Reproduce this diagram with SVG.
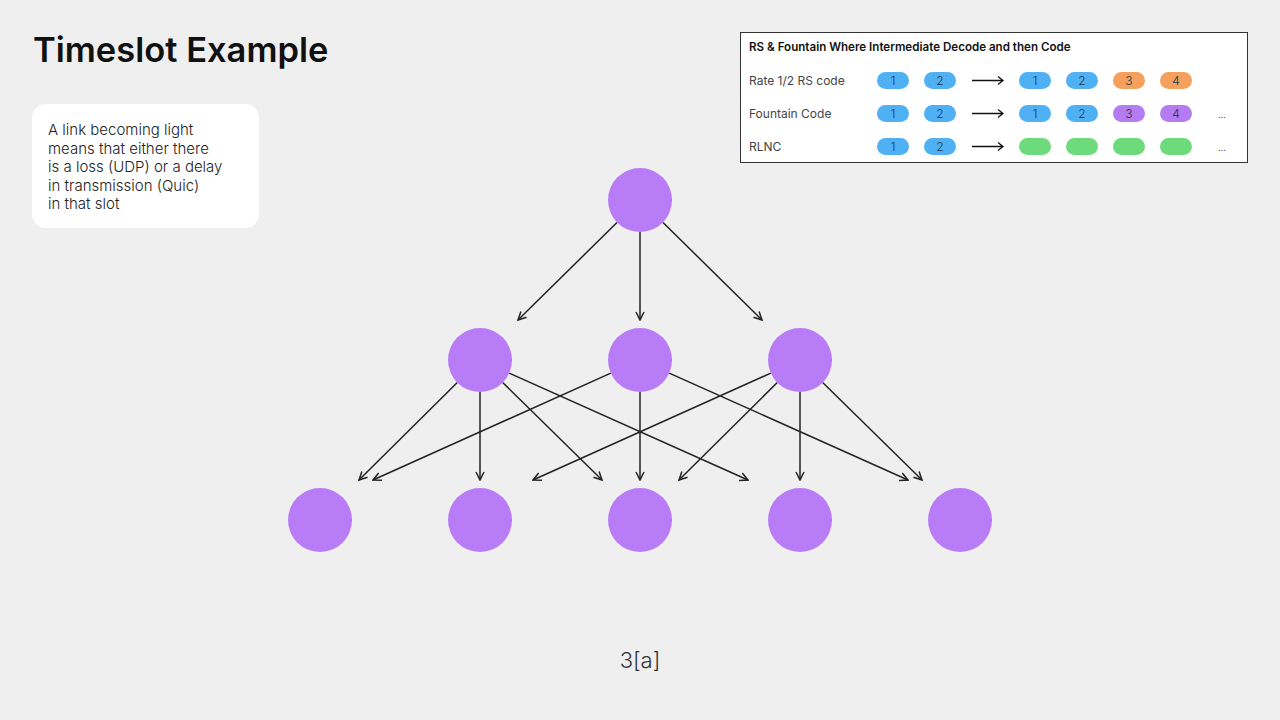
<svg xmlns="http://www.w3.org/2000/svg" width="1280" height="720" viewBox="0 0 1280 720">
<defs>
<marker id="arr" viewBox="0 0 10 10" refX="9" refY="5" markerWidth="10" markerHeight="10" markerUnits="userSpaceOnUse" orient="auto">
<path d="M1,1 L9,5 L1,9" fill="none" stroke="#222" stroke-width="1.5"/>
</marker>
<style>
.node{fill:#b87cf7}
.edge{stroke:#222;stroke-width:1.5;fill:none;marker-end:url(#arr)}
.t{font-family:Inter,"Noto Sans",sans-serif}
.lbl{font-family:Inter,"Noto Sans",sans-serif;font-size:12px;fill:#444}
.num{font-family:Inter,"Noto Sans",sans-serif;font-size:12px;font-weight:300;fill:#234;text-anchor:middle}
.blue{fill:#4fb1f3}.orange{fill:#f5a05c}.purple{fill:#b47cf0}.green{fill:#6ddb7c}
</style>
</defs>
<rect width="1280" height="720" fill="#efefef"/>
<text class="t" x="33" y="62" font-size="34.5" font-weight="600" fill="#111">Timeslot Example</text>
<g id="note">
<rect x="32" y="104" width="227" height="124" rx="14" fill="#fff"/>
<text class="t" font-size="15" font-weight="300" fill="#222">
<tspan x="48" y="135">A link becoming light</tspan>
<tspan x="48" y="153.5">means that either there</tspan>
<tspan x="48" y="172">is a loss (UDP) or a delay</tspan>
<tspan x="48" y="190.5">in transmission (Quic)</tspan>
<tspan x="48" y="209">in that slot</tspan>
</text>
</g>
<g id="table">
<rect x="740.5" y="32.5" width="507" height="130" fill="#fff" stroke="#333" stroke-width="1"/>
<text class="t" x="749" y="51" font-size="11.6" font-weight="600" fill="#111">RS &amp; Fountain Where Intermediate Decode and then Code</text>
<text class="lbl" x="749" y="84.5">Rate 1/2 RS code</text>
<text class="lbl" x="749" y="117.5">Fountain Code</text>
<text class="lbl" x="749" y="150.5">RLNC</text>
<g id="row1">
<rect class="blue" x="877" y="72" width="32" height="17" rx="8.5"/><text class="num" x="893" y="85">1</text>
<rect class="blue" x="924" y="72" width="32" height="17" rx="8.5"/><text class="num" x="940" y="85">2</text>
<rect class="blue" x="1019" y="72" width="32" height="17" rx="8.5"/><text class="num" x="1035" y="85">1</text>
<rect class="blue" x="1066" y="72" width="32" height="17" rx="8.5"/><text class="num" x="1082" y="85">2</text>
<rect class="orange" x="1113" y="72" width="32" height="17" rx="8.5"/><text class="num" x="1129" y="85">3</text>
<rect class="orange" x="1160" y="72" width="32" height="17" rx="8.5"/><text class="num" x="1176" y="85">4</text>
</g>
<g id="row2">
<rect class="blue" x="877" y="105" width="32" height="17" rx="8.5"/><text class="num" x="893" y="118">1</text>
<rect class="blue" x="924" y="105" width="32" height="17" rx="8.5"/><text class="num" x="940" y="118">2</text>
<rect class="blue" x="1019" y="105" width="32" height="17" rx="8.5"/><text class="num" x="1035" y="118">1</text>
<rect class="blue" x="1066" y="105" width="32" height="17" rx="8.5"/><text class="num" x="1082" y="118">2</text>
<rect class="purple" x="1113" y="105" width="32" height="17" rx="8.5"/><text class="num" x="1129" y="118">3</text>
<rect class="purple" x="1160" y="105" width="32" height="17" rx="8.5"/><text class="num" x="1176" y="118">4</text>
<text class="t" x="1222" y="118" font-size="9" fill="#555" text-anchor="middle">...</text>
</g>
<g id="row3">
<rect class="blue" x="877" y="138" width="32" height="17" rx="8.5"/><text class="num" x="893" y="151">1</text>
<rect class="blue" x="924" y="138" width="32" height="17" rx="8.5"/><text class="num" x="940" y="151">2</text>
<rect class="green" x="1019" y="138" width="32" height="17" rx="8.5"/>
<rect class="green" x="1066" y="138" width="32" height="17" rx="8.5"/>
<rect class="green" x="1113" y="138" width="32" height="17" rx="8.5"/>
<rect class="green" x="1160" y="138" width="32" height="17" rx="8.5"/>
<text class="t" x="1222" y="151" font-size="9" fill="#555" text-anchor="middle">...</text>
</g>
<g stroke="#111" stroke-width="1.3" fill="none">
<path d="M972,80.5 H1003 M998,76.5 L1003,80.5 L998,84.5"/>
<path d="M972,113.5 H1003 M998,109.5 L1003,113.5 L998,117.5"/>
<path d="M972,146.5 H1003 M998,142.5 L1003,146.5 L998,150.5"/>
</g>
</g>
<g id="connectors">
<line class="edge" x1="617" y1="222.5" x2="518" y2="320"/>
<line class="edge" x1="640" y1="232" x2="640" y2="320"/>
<line class="edge" x1="663" y1="222.5" x2="762" y2="320"/>
<line class="edge" x1="457.3" y1="382.5" x2="359" y2="480"/>
<line class="edge" x1="480" y1="392" x2="480" y2="480"/>
<line class="edge" x1="502.7" y1="382.5" x2="602" y2="480"/>
<line class="edge" x1="509.2" y1="373.1" x2="748" y2="480"/>
<line class="edge" x1="610.8" y1="373.1" x2="373" y2="480"/>
<line class="edge" x1="640" y1="392" x2="640" y2="480"/>
<line class="edge" x1="669.2" y1="373.1" x2="908" y2="480"/>
<line class="edge" x1="770.8" y1="373.1" x2="533" y2="480"/>
<line class="edge" x1="777.3" y1="382.5" x2="679" y2="480"/>
<line class="edge" x1="800" y1="392" x2="800" y2="480"/>
<line class="edge" x1="822.7" y1="382.5" x2="922" y2="480"/>
</g>
<g id="n-top"><circle class="node" cx="640" cy="200" r="32"/></g>
<g id="n-m1"><circle class="node" cx="480" cy="360" r="32"/></g>
<g id="n-m2"><circle class="node" cx="640" cy="360" r="32"/></g>
<g id="n-m3"><circle class="node" cx="800" cy="360" r="32"/></g>
<g id="n-b1"><circle class="node" cx="320" cy="520" r="32"/></g>
<g id="n-b2"><circle class="node" cx="480" cy="520" r="32"/></g>
<g id="n-b3"><circle class="node" cx="640" cy="520" r="32"/></g>
<g id="n-b4"><circle class="node" cx="800" cy="520" r="32"/></g>
<g id="n-b5"><circle class="node" cx="960" cy="520" r="32"/></g>
<text class="t" x="640" y="668" font-size="22" font-weight="300" fill="#333" text-anchor="middle">3[a]</text>
</svg>
